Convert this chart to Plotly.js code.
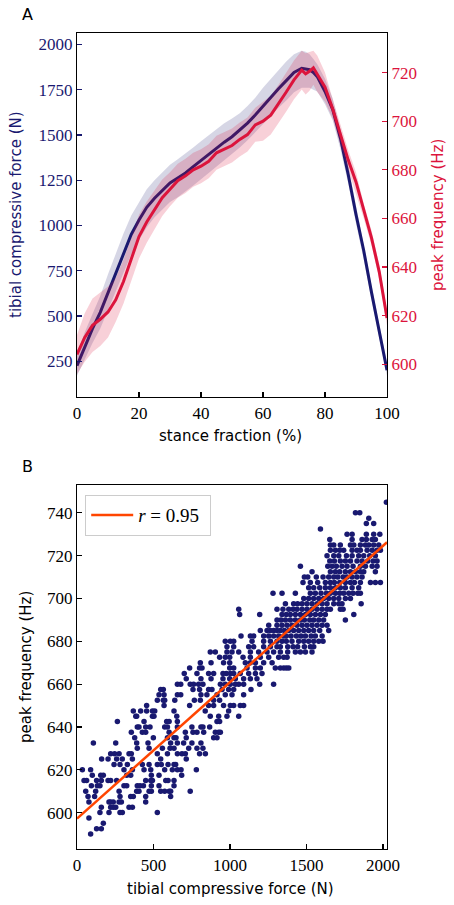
<!DOCTYPE html>
<html>
<head>
<meta charset="utf-8">
<script src="https://cdn.plot.ly/plotly-3.0.1.min.js"></script>
<style>html,body{margin:0;padding:0;background:#fff;}#chart{width:454px;height:905px;}</style>
</head>
<body>
<div id="chart"></div>
<script>
// ---------- Panel A data ----------
const stance = [0,2.5,5,7.5,10,12.5,15,17.5,20,22.5,25,27.5,30,32.5,35,37.5,40,42.5,45,47.5,50,52.5,55,57.5,60,62.5,65,67.5,70,72.5,73.75,75,76.25,77.5,80,82.5,85,87.5,90,92.5,95,97.5,100];
const forceMean = [225,330,430,520,630,740,850,950,1030,1100,1150,1195,1235,1262,1290,1325,1360,1395,1430,1460,1490,1525,1565,1610,1660,1705,1755,1800,1845,1868,1866,1860,1845,1822,1740,1640,1480,1280,1060,860,630,410,200];
const forceUpper = [290,410,510,610,730,845,955,1055,1130,1200,1250,1295,1335,1365,1395,1430,1465,1500,1530,1565,1590,1620,1660,1705,1760,1810,1860,1905,1945,1965,1960,1945,1920,1890,1810,1700,1530,1330,1110,900,670,450,240];
const forceLower = [170,260,350,430,530,630,740,840,920,990,1045,1090,1130,1155,1185,1220,1255,1290,1325,1355,1390,1430,1470,1515,1565,1610,1650,1690,1735,1760,1760,1760,1750,1740,1670,1580,1420,1230,1010,810,590,370,170];
const freqMean = [604,611,616,618.5,621.5,626.5,634,643,652.5,658.5,663.5,668.5,672,675.5,677.5,680,681.5,683.5,687,688.5,690,692.5,694.5,698.5,700,702.5,707,712,717,721,719.5,720.5,722,719.5,714,705,694,684,675,663,652,638,619];
const freqUpper = [612,621,627,629.5,632,635.5,643,652,661.5,667,671.5,676,679,682.5,684.5,687,688.5,690.5,694,695.5,697,699.5,701.5,705.5,708,710.5,715,720,725,729,728,728.5,729,727,720,709,698,688,679,666,655,641,622];
const freqLower = [596,601,605,607.5,611,617.5,625,634,643.5,650,655.5,661,665,668.5,670.5,673,674.5,676.5,680,681.5,683,685.5,687.5,691.5,692,694.5,699,704,709,713,711,712.5,715,712,708,701,690,680,671,660,649,635,616];

// ---------- Panel B data ----------
const freqRows = [590,592.5,595,597.5,600,602.5,605,607.5,610,612.5,615,617.5,620,622.5,625,627.5,630,632.5,635,637.5,640,642.5,645,647.5,650,652.5,655,657.5,660,662.5,665,667.5,670,672.5,675,677.5,680,682.5,685,687.5,690,692.5,695,697.5,700,702.5,705,707.5,710,712.5,715,717.5,720,722.5,725,727.5,730,732.5,735,737.5,740,745];
const forceRows = [
 [89],
 [128,159],
 [172],
 [78],
 [150,209,281,296,525],
 [159,220,237,253,340,362],
 [78,209,220,237,275,290,449],
 [72,115,281,351,368,449,612],
 [57,122,275,390,405,471,486,547,573,602,612,740],
 [94,133,150,307,325,394,412,434,486,536,634],
 [46,63,128,159,203,220,259,449,482,493,580,595,634],
 [100,155,172,325,351,486,536,684],
 [35,89,307,362,438,482,573,623,656,680,780],
 [242,281,329,427,471,525,551,595,634,645],
 [161,203,259,296,362,547,714],
 [220,246,275,340,355,525,591,656,686,708,801,839],
 [394,471,558,608,634,730,784,823],
 [107,253,390,464,612,656,697,751,810],
 [377,499,591,634,647,714,893,915],
 [355,427,449,602,708,758,784,828,904,926,937],
 [394,405,449,477,573,591,656,751,810,823,867],
 [264,438,586,602,656,915,932],
 [384,390,493,503,652,871,926,980,1057],
 [368,416,455,493,508,634,838,991],
 [455,569,736,860,893,958,1002,1024,1067,1089],
 [525,564,573,639,767,806,893,932],
 [536,569,656,678,810,849,915,969,1013,1089],
 [547,564,758,801,860,882,948,991,1024,1137],
 [656,678,740,762,795,823,937,969,1002,1035,1057,1089,1194,1285],
 [714,810,876,954,998,1035,1089,1133,1176],
 [701,784,860,893,954,976,1002,1024,1067,1122,1166,1209],
 [736,801,817,998,1024,1111,1166,1198,1296,1329,1351,1368,1384],
 [806,876,958,998,1100,1133,1166,1220,1275],
 [932,969,998,1085,1133,1198,1253,1318,1351,1373],
 [871,904,980,1013,1057,1133,1187,1242,1285,1329,1377,1427,1460,1493,1536],
 [980,1024,1122,1155,1220,1264,1307,1329,1377,1412,1442,1486,1525,1547],
 [969,1002,1024,1144,1220,1264,1307,1340,1368,1405,1449,1482,1514,1547,1580,1608],
 [1072,1133,1155,1220,1253,1285,1318,1351,1368,1399,1434,1464,1493,1530,1558,1602],
 [1198,1242,1264,1285,1307,1329,1355,1384,1416,1449,1482,1514,1547,1586,1645],
 [1253,1307,1340,1373,1405,1438,1471,1503,1536,1569,1602,1634],
 [1307,1333,1362,1394,1427,1460,1486,1521,1547,1580,1612,1754],
 [1063,1194,1340,1368,1394,1427,1460,1493,1525,1558,1591,1623,1809],
 [1057,1307,1346,1384,1412,1438,1471,1503,1536,1569,1602,1634,1656,1721,1739],
 [1362,1416,1442,1471,1503,1536,1569,1602,1634,1678,1711,1732,1857],
 [1482,1514,1547,1580,1612,1645,1678,1711,1754,1787],
 [1281,1340,1427,1525,1558,1595,1630,1656,1689,1717,1743,1776,1804,1835,1852],
 [1514,1547,1586,1623,1656,1689,1721,1754,1798,1841],
 [1477,1525,1573,1623,1656,1682,1717,1754,1787,1813,1852,1918,1950,1983],
 [1486,1508,1564,1608,1645,1678,1704,1739,1765,1798,1830,1863],
 [1536,1656,1689,1717,1754,1787,1820,1852,1874,1950],
 [1460,1639,1667,1695,1732,1765,1804,1852,1885,1929,1961],
 [1652,1682,1721,1754,1787,1830,1863,1900,1935,1961],
 [1634,1678,1711,1761,1798,1841,1874,1913,1950],
 [1656,1689,1717,1743,1798,1830,1852,1896,1929,1961,1983],
 [1656,1678,1721,1787,1809,1852,1885,1907,1939,1972],
 [1652,1798,1863,1891,1929,1950],
 [1765,1798,1891,1939,1979],
 [1591],
 [1891,1939],
 [1907],
 [1820,1848],
 [2022]
];
const fitIntercept = 597.2;   // Hz at 0 N
const fitSlope = 0.0637;      // Hz per N
const fitForce = [0, 2026];
const fitLabel = '<i>r</i>&nbsp;=&nbsp;0.95&nbsp;';

// ---------- build ----------
const scatterForce = [], scatterFreq = [];
forceRows.forEach((row, i) => row.forEach(F => { scatterForce.push(F); scatterFreq.push(freqRows[i]); }));
const fitFreq = fitForce.map(F => fitIntercept + fitSlope * F);

const NAVY = '#191970', CRIM = '#dc143c', ORANGE = '#ff4500';
const serif = "'Liberation Serif', 'DejaVu Serif', serif";
const sans = "'DejaVu Sans', sans-serif";

const traces = [
  {x: stance, y: forceLower, xaxis: 'x', yaxis: 'y', mode: 'lines', line: {width: 0}, hoverinfo: 'skip', showlegend: false},
  {x: stance, y: forceUpper, xaxis: 'x', yaxis: 'y', mode: 'lines', line: {width: 0}, fill: 'tonexty', fillcolor: 'rgba(25,25,112,0.18)', showlegend: false},
  {x: stance, y: forceMean, xaxis: 'x', yaxis: 'y', mode: 'lines', line: {color: NAVY, width: 3}, showlegend: false},
  {x: stance, y: freqLower, xaxis: 'x', yaxis: 'y2', mode: 'lines', line: {width: 0}, hoverinfo: 'skip', showlegend: false},
  {x: stance, y: freqUpper, xaxis: 'x', yaxis: 'y2', mode: 'lines', line: {width: 0}, fill: 'tonexty', fillcolor: 'rgba(220,20,60,0.2)', showlegend: false},
  {x: stance, y: freqMean, xaxis: 'x', yaxis: 'y2', mode: 'lines', line: {color: CRIM, width: 3}, showlegend: false},
  {x: scatterForce, y: scatterFreq, xaxis: 'x2', yaxis: 'y3', type: 'scatter', mode: 'markers', marker: {color: NAVY, size: 5.5, line: {width: 0}}, showlegend: false},
  {x: fitForce, y: fitFreq, xaxis: 'x2', yaxis: 'y3', mode: 'lines', line: {color: ORANGE, width: 2.5}, name: fitLabel, showlegend: true}
];

const tickFont = {family: serif, size: 17, color: '#000'};
const common = {showgrid: false, zeroline: false, showline: true, linecolor: '#000', linewidth: 1.2, ticks: 'inside', ticklen: 5, tickwidth: 1.2, tickcolor: '#000', tickfont: tickFont, automargin: false};
const xdom = [77/454, 387/454];

function label(text, px, py, angle, color, size, family) {
  return {text: text, x: px/454, y: 1-py/905, xref: 'paper', yref: 'paper', xanchor: 'center', yanchor: 'middle',
          showarrow: false, textangle: angle, font: {family: family || sans, size: size || 15, color: color || '#000'}};
}

const layout = {
  width: 454, height: 905,
  margin: {l: 0, r: 0, t: 0, b: 0},
  paper_bgcolor: '#fff', plot_bgcolor: '#fff',
  showlegend: true,
  xaxis: Object.assign({}, common, {domain: xdom, anchor: 'y', range: [0, 100], tickvals: [0,20,40,60,80,100], mirror: true}),
  yaxis: Object.assign({}, common, {domain: [1-397/905, 1-33/905], anchor: 'x', range: [52, 2063], tickvals: [250,500,750,1000,1250,1500,1750,2000], tickcolor: NAVY, tickfont: {family: serif, size: 17, color: NAVY}}),
  yaxis2: Object.assign({}, common, {overlaying: 'y', side: 'right', anchor: 'x', range: [586.5, 736.3], tickvals: [600,620,640,660,680,700,720], tickcolor: CRIM, tickfont: {family: serif, size: 17, color: CRIM}}),
  xaxis2: Object.assign({}, common, {domain: xdom, anchor: 'y3', range: [0, 2026], tickvals: [0,500,1000,1500,2000], mirror: true}),
  yaxis3: Object.assign({}, common, {domain: [1-849/905, 1-485/905], anchor: 'x2', range: [583, 753], tickvals: [600,620,640,660,680,700,720,740], mirror: true}),
  legend: {x: 85/454, y: 1-495/905, xanchor: 'left', yanchor: 'top', bgcolor: '#fff', bordercolor: '#cccccc', borderwidth: 1.2, itemwidth: 42, font: {family: serif, size: 19, color: '#000'}},
  annotations: [
    label('A', 27, 14, 0, '#000', 16),
    label('B', 27, 466, 0, '#000', 16),
    label('tibial compressive force (N)', 16, 215, -90, NAVY),
    label('peak frequency (Hz)', 438, 215, -90, CRIM),
    label('stance fraction (%)', 231, 436, 0, '#000'),
    label('peak frequency (Hz)', 26, 667, -90, '#000'),
    label('tibial compressive force (N)', 231, 889, 0, '#000')
  ]
};

Plotly.newPlot('chart', traces, layout, {staticPlot: true, displayModeBar: false});
</script>
</body>
</html>
